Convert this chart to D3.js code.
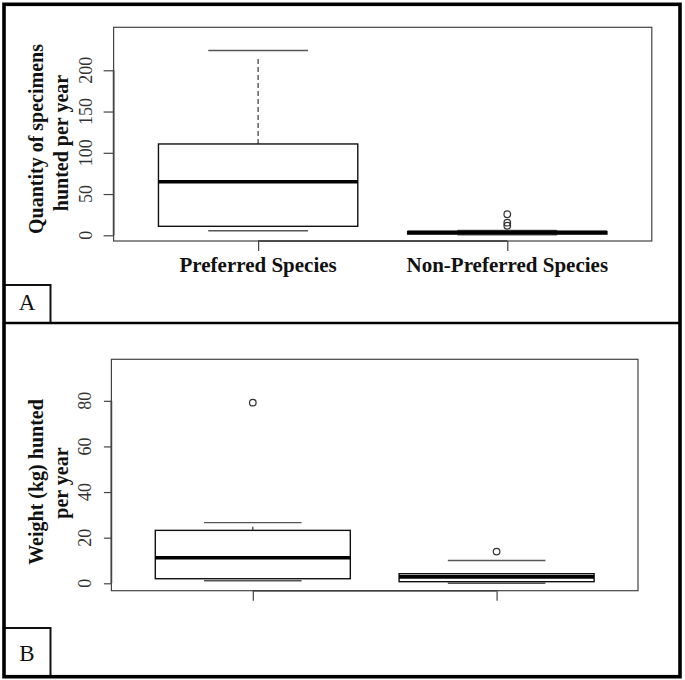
<!DOCTYPE html>
<html>
<head>
<meta charset="utf-8">
<script src="https://cdn.jsdelivr.net/npm/d3@7"></script>
<style>
  body { margin: 0; background: #fff; }
  text { font-family: "Liberation Serif", "Times New Roman", serif; }
</style>
</head>
<body>
<script>
// categories on the x axis
var categories = ["Preferred Species", "Non-Preferred Species"];

// panel A: quantity of specimens hunted per year
var qtyLow      = [5.6, 0.5];
var qtyQ1       = [10.9, 1.5];
var qtyMedian   = [65, 3.5];
var qtyQ3       = [110.7, 4.5];
var qtyHigh     = [224, 6];
var qtyWhiskTop = [215, 4.5];   // where the drawn upper whisker line stops
var qtyOutliers = [[], [25.5, 15.3, 11.6]];
var qtyTicks    = [0, 50, 100, 150, 200];

// panel B: weight (kg) hunted per year
var wtLow      = [1.1, 0];
var wtQ1       = [2.0, 0.7];
var wtMedian   = [11.2, 2.8];
var wtQ3       = [23.2, 4.2];
var wtHigh     = [26.6, 10];
var wtWhiskTop = [24.8, 4.2];
var wtOutliers = [[79.2], [13.9]];
var wtTicks    = [0, 20, 40, 60, 80];

var w = 685, h = 680;

var svg = d3.select("body")
  .append("svg")
  .attr("width", w)
  .attr("height", h);

function panel(opt) {
  var x = d3.scaleLinear()
    .domain([0.42, 2.58])
    .range([opt.left, opt.right]);
  var y = d3.scaleLinear()
    .domain(opt.yDomain)
    .range([opt.bottom, opt.top]);
  var half = 0.4, staple = 0.2;

  var g = svg.append("g");

  // y axis (ticks from d3, labels drawn rotated like R's default)
  var yAxis = d3.axisLeft(y)
    .tickValues(opt.ticks)
    .tickSize(opt.tickLen)
    .tickSizeOuter(0)
    .tickFormat("");
  var ya = g.append("g")
    .attr("transform", "translate(" + opt.left + ",0)")
    .call(yAxis);
  ya.select(".domain")
    .attr("d", "M0," + y(opt.ticks[0]) + "V" + y(opt.ticks[opt.ticks.length - 1]))
    .attr("stroke", "#222").attr("stroke-width", 1.6);
  ya.selectAll(".tick line").attr("stroke", "#444").attr("stroke-width", 1.2);

  g.selectAll(".ylab")
    .data(opt.ticks)
    .enter()
    .append("text")
    .attr("class", "ylab")
    .attr("transform", function(d) { return "translate(" + opt.labelX + "," + y(d) + ") rotate(-90)"; })
    .attr("text-anchor", "middle")
    .attr("fill", "#333")
    .style("font-size", "18px")
    .text(function(d) { return d; });

  // x axis
  var xAxis = d3.axisBottom(x)
    .tickValues([1, 2])
    .tickSize(10)
    .tickSizeOuter(0)
    .tickFormat("");
  var xa = g.append("g")
    .attr("transform", "translate(0," + opt.bottom + ")")
    .call(xAxis);
  xa.select(".domain")
    .attr("d", "M" + x(1) + ",0H" + x(2))
    .attr("stroke", "#222").attr("stroke-width", 1.6);
  xa.selectAll(".tick line").attr("stroke", "#444").attr("stroke-width", 1.2);

  if (opt.showLabels) {
    g.selectAll(".xlab")
      .data(categories)
      .enter()
      .append("text")
      .attr("class", "xlab")
      .attr("x", function(d, i) { return x(i + 1); })
      .attr("y", opt.bottom + 31)
      .attr("text-anchor", "middle")
      .attr("fill", "#111")
      .style("font-weight", "bold")
      .style("font-size", "21px")
      .text(function(d) { return d; });
  }

  // plot frame
  g.append("rect")
    .attr("x", opt.left).attr("y", opt.top)
    .attr("width", opt.right - opt.left)
    .attr("height", opt.bottom - opt.top)
    .attr("fill", "none")
    .attr("stroke", "#444")
    .attr("stroke-width", 1.2);

  var idx = d3.range(categories.length);
  var boxes = g.selectAll(".bx").data(idx).enter().append("g").attr("class", "bx");

  // upper whisker (dashed)
  boxes.append("line")
    .attr("x1", function(i) { return x(i + 1); })
    .attr("x2", function(i) { return x(i + 1); })
    .attr("y1", function(i) { return y(opt.q3[i]); })
    .attr("y2", function(i) { return y(opt.whiskTop[i]); })
    .attr("stroke", "#444")
    .attr("stroke-width", 1.3)
    .attr("stroke-dasharray", "5,3");

  // staples
  [opt.high, opt.low].forEach(function(arr) {
    boxes.append("line")
      .attr("x1", function(i) { return x(i + 1 - staple); })
      .attr("x2", function(i) { return x(i + 1 + staple); })
      .attr("y1", function(i) { return y(arr[i]); })
      .attr("y2", function(i) { return y(arr[i]); })
      .attr("stroke", "#555")
      .attr("stroke-width", 1.4);
  });

  // box
  boxes.append("rect")
    .attr("x", function(i) { return x(i + 1 - half); })
    .attr("width", function(i) { return x(i + 1 + half) - x(i + 1 - half); })
    .attr("y", function(i) { return y(opt.q3[i]); })
    .attr("height", function(i) { return y(opt.q1[i]) - y(opt.q3[i]); })
    .attr("fill", "#fff")
    .attr("stroke", "#111")
    .attr("stroke-width", 1.4);

  // median
  boxes.append("line")
    .attr("x1", function(i) { return x(i + 1 - half); })
    .attr("x2", function(i) { return x(i + 1 + half); })
    .attr("y1", function(i) { return y(opt.median[i]); })
    .attr("y2", function(i) { return y(opt.median[i]); })
    .attr("stroke", "#000")
    .attr("stroke-width", 3.6);

  // outliers
  boxes.selectAll("circle")
    .data(function(i) { return opt.outliers[i].map(function(v) { return [i, v]; }); })
    .enter()
    .append("circle")
    .attr("cx", function(d) { return x(d[0] + 1); })
    .attr("cy", function(d) { return y(d[1]); })
    .attr("r", 3.3)
    .attr("fill", "none")
    .attr("stroke", "#333")
    .attr("stroke-width", 1.2);

  // y title
  opt.title.forEach(function(t, k) {
    g.append("text")
      .attr("transform", "translate(" + opt.titleX[k] + "," + opt.titleY[k] + ") rotate(-90)")
      .attr("text-anchor", "middle")
      .attr("fill", "#111")
      .style("font-weight", "bold")
      .style("font-size", "20px")
      .text(t);
  });

  // panel letter
  svg.append("rect")
    .attr("x", 4).attr("y", opt.letterTop)
    .attr("width", 46.5).attr("height", opt.letterBottom - opt.letterTop)
    .attr("fill", "none")
    .attr("stroke", "#111")
    .attr("stroke-width", 2);
  svg.append("text")
    .attr("x", 27).attr("y", opt.letterBase)
    .attr("text-anchor", "middle")
    .attr("fill", "#111")
    .style("font-size", "23px")
    .text(opt.letter);
}

panel({
  left: 113.6, right: 651.8, top: 27.3, bottom: 241,
  yDomain: [-6.9, 252.1], ticks: qtyTicks, tickLen: 10, labelX: 92,
  low: qtyLow, q1: qtyQ1, median: qtyMedian, q3: qtyQ3, high: qtyHigh,
  whiskTop: qtyWhiskTop, outliers: qtyOutliers, showLabels: true,
  title: ["Quantity of specimens", "hunted per year"],
  titleX: [43, 68], titleY: [139, 143],
  letter: "A", letterTop: 285, letterBottom: 323, letterBase: 310
});

panel({
  left: 111.4, right: 638, top: 359.3, bottom: 590.7,
  yDomain: [-3.25, 98.2], ticks: wtTicks, tickLen: 7.5, labelX: 91,
  low: wtLow, q1: wtQ1, median: wtMedian, q3: wtQ3, high: wtHigh,
  whiskTop: wtWhiskTop, outliers: wtOutliers, showLabels: false,
  title: ["Weight (kg) hunted", "per year"],
  titleX: [43, 68], titleY: [482, 483],
  letter: "B", letterTop: 628, letterBottom: 676, letterBase: 661
});

// divider between panels and outer frame
svg.append("line")
  .attr("x1", 4).attr("x2", 680)
  .attr("y1", 323).attr("y2", 323)
  .attr("stroke", "#000")
  .attr("stroke-width", 2.5);

svg.append("rect")
  .attr("x", 4).attr("y", 4.3)
  .attr("width", 676).attr("height", 672.4)
  .attr("fill", "none")
  .attr("stroke", "#000")
  .attr("stroke-width", 3.6);
</script>
</body>
</html>
